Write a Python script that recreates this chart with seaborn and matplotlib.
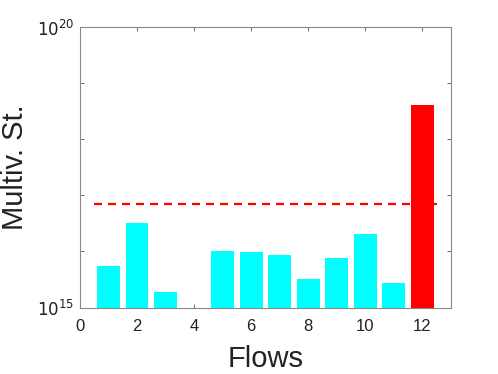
import numpy as np
import pandas as pd
import seaborn as sns
import matplotlib
matplotlib.use("Agg")
import matplotlib.pyplot as plt
from matplotlib.ticker import FixedLocator, NullLocator

flows = [1, 2, 3, 4, 5, 6, 7, 8, 9, 10, 11, 12]
values = [10**15.74, 10**16.51, 10**15.28, 10**15.0, 10**16.01, 10**15.99,
          10**15.94, 10**15.51, 10**15.88, 10**16.31, 10**15.44, 10**18.61]
threshold = 10**16.84
highlight = [False] * 11 + [True]

sns.set_theme(style="white")
plt.rcParams['font.family'] = ['Liberation Sans', 'DejaVu Sans']

df = pd.DataFrame({"flow": flows, "value": values, "hl": highlight})

fig = plt.figure(figsize=(4.98, 3.74), dpi=100)
ax = fig.add_axes([0.1606, 0.1778, 0.745, 0.750])
ax.set_yscale("log")

colors = ["#ff0000" if h else "#00ffff" for h in df["hl"]]
ax.bar(df["flow"], df["value"] - 1e15, bottom=1e15, width=0.8, color=colors, linewidth=0)
sns.lineplot(x=[0.5, 12.5], y=[threshold, threshold], ax=ax, color="#ff0000",
             linestyle=(0, (3.6, 2.7)), linewidth=1.6)

ax.set_xlim(0, 13)
ax.set_ylim(1e15, 1e20)
ax.xaxis.set_major_locator(FixedLocator([0, 2, 4, 6, 8, 10, 12]))
ax.yaxis.set_major_locator(FixedLocator([1e15, 1e16, 1e17, 1e18, 1e19, 1e20]))
ax.yaxis.set_minor_locator(NullLocator())
ax.set_yticklabels(["$10^{15}$", "", "", "", "", "$10^{20}$"])

ax.tick_params(axis="both", which="major", direction="in", length=3, width=0.6,
               color="#555555", labelsize=12, labelcolor="#222222",
               top=True, right=True, bottom=True, left=True, pad=4)
ax.tick_params(axis="x", pad=8)
for s in ax.spines.values():
    s.set_color("#888888")
    s.set_linewidth(0.8)
ax.set_xlabel("Flows", fontsize=21, color="#222222", labelpad=8)
ax.set_ylabel("Multiv. St.", fontsize=21, color="#222222", labelpad=6)

fig.savefig("out.png", dpi=100)
